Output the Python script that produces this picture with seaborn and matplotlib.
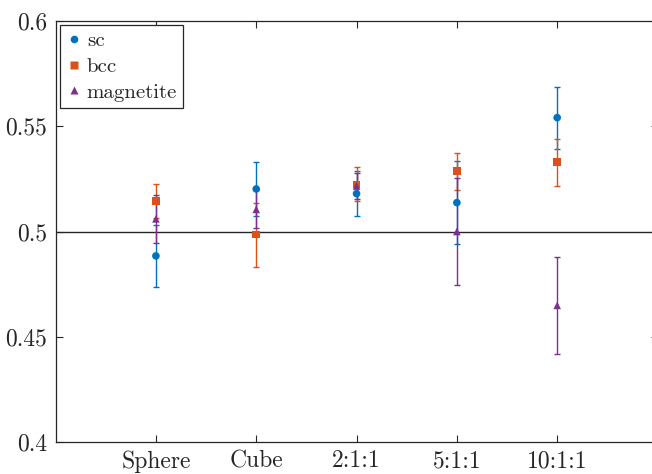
import numpy as np
import pandas as pd
import matplotlib
matplotlib.use("Agg")
import matplotlib.pyplot as plt
import seaborn as sns

categories = ["Sphere", "Cube", "2:1:1", "5:1:1", "10:1:1"]
sc_vals = [0.4884, 0.5202, 0.5180, 0.5137, 0.5541]
sc_err = [0.0146, 0.0130, 0.0108, 0.0196, 0.0147]
bcc_vals = [0.5146, 0.4985, 0.5224, 0.5286, 0.5329]
bcc_err = [0.0081, 0.0152, 0.0081, 0.0088, 0.0112]
mag_vals = [0.5060, 0.5105, 0.5216, 0.5000, 0.4649]
mag_err = [0.0113, 0.0090, 0.0060, 0.0254, 0.0232]
series_names = ["sc", "bcc", "magnetite"]
yticks = [0.4, 0.45, 0.5, 0.55, 0.6]
ytick_labels = ["0.4", "0.45", "0.5", "0.55", "0.6"]

sns.set_style("white")
plt.rcParams["font.family"] = ["cmr10", "DejaVu Serif"]
plt.rcParams["mathtext.fontset"] = "cm"
plt.rcParams["axes.formatter.use_mathtext"] = True

colors = {"sc": "#0072BD", "bcc": "#D95319", "magnetite": "#7E2F8E"}
markers = {"sc": "o", "bcc": "s", "magnetite": "^"}

xpos = np.arange(1, len(categories) + 1)
rows = []
for name, vals, errs in [("sc", sc_vals, sc_err), ("bcc", bcc_vals, bcc_err), ("magnetite", mag_vals, mag_err)]:
    for x, v, e in zip(xpos, vals, errs):
        rows.append({"x": x, "value": v, "err": e, "series": name})
df = pd.DataFrame(rows)

fig = plt.figure(figsize=(6.52, 4.74), dpi=100)
ax = fig.add_axes([55.6 / 652, 1 - 442 / 474, (657.5 - 55.6) / 652, (442 - 21) / 474])

ax.axhline(0.5, color="#262626", lw=1.0, zorder=1)

for name in series_names:
    sub = df[df["series"] == name]
    ax.errorbar(sub["x"], sub["value"], yerr=sub["err"], fmt="none",
                ecolor=colors[name], elinewidth=1.0, capsize=2.0, capthick=1.0, zorder=2)

sns.scatterplot(data=df, x="x", y="value", hue="series", style="series",
                hue_order=series_names, style_order=series_names,
                palette=colors, markers=markers, s=30, edgecolor="none",
                ax=ax, zorder=3)

ax.set_xlim(0, 6)
ax.set_ylim(0.4, 0.6)
ax.set_xticks(xpos)
ax.set_xticklabels(categories, fontsize=17)
ax.set_yticks(yticks)
ax.set_yticklabels(ytick_labels, fontsize=17)
ax.set_xlabel("")
ax.set_ylabel("")
ax.tick_params(direction="in", length=5, width=0.8, top=True, right=True,
               bottom=True, left=True, colors="#262626", labelcolor="#262626", pad=6)
for sp in ax.spines.values():
    sp.set_color("#262626")
    sp.set_linewidth(0.9)

leg = ax.legend(loc="upper left", fontsize=15, frameon=True, fancybox=False,
                edgecolor="#262626", framealpha=1, handletextpad=0.2,
                borderaxespad=0.2, borderpad=0.3, labelspacing=0.35, handlelength=0.8)
leg.get_frame().set_linewidth(0.9)
for h in leg.legend_handles:
    try:
        h.set_sizes([28])
    except Exception:
        pass

fig.savefig("out.png", dpi=100)
